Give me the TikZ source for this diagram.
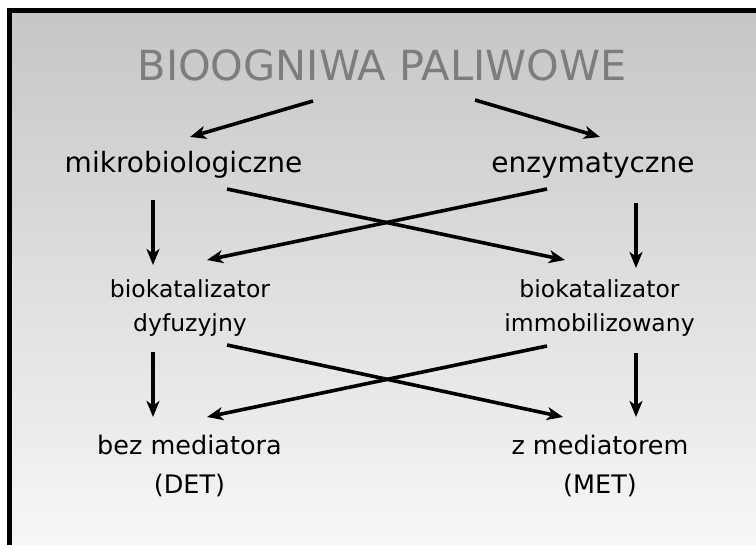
\documentclass[tikz,border=0pt]{standalone}
\usepackage{fontspec}
\setmainfont{DejaVu Sans}
\usetikzlibrary{arrows.meta,calc}
\definecolor{bgtop}{RGB}{198,198,198}
\definecolor{bgbot}{RGB}{248,248,248}
\definecolor{titlegray}{RGB}{125,125,125}
\begin{document}
\begin{tikzpicture}[x=1pt,y=-1pt,
  lbl/.style={inner sep=0pt, anchor=base, text=black},
  titlefont/.style={font=\fontsize{41.5}{50}\selectfont, text=titlegray},
  lvla/.style={font=\fontsize{28}{34}\selectfont},
  lvlb/.style={font=\fontsize{23.5}{34}\selectfont},
  lvlc/.style={font=\fontsize{25.5}{39}\selectfont},
  arr/.style={line width=3.6pt, -{Stealth[length=16pt,width=13pt,inset=4.5pt]}}]
\clip (0,0) rectangle (756,545);
\fill[white] (0,0) rectangle (756,545);
\shade[top color=bgtop,bottom color=bgbot] (9.5,10.5) rectangle (780,560);
\draw[line width=5pt] (9.5,10.5) rectangle (780,560);

\node[lbl, titlefont] (title) at (382,81) {BIOOGNIWA PALIWOWE};
\node[lbl, lvla] (mik) at (183.5,173) {mikrobiologiczne};
\node[lbl, lvla] (enz) at (593,173) {enzymatyczne};
\node[lbl, lvlb] (bdL) at (190,298) {\begin{tabular}[t]{@{}c@{}}biokatalizator\\dyfuzyjny\end{tabular}};
\node[lbl, lvlb] (bdR) at (599.5,298) {\begin{tabular}[t]{@{}c@{}}biokatalizator\\immobilizowany\end{tabular}};
\node[lbl, lvlc] (det) at (189.5,455) {\begin{tabular}[t]{@{}c@{}}bez mediatora\\(DET)\end{tabular}};
\node[lbl, lvlc] (met) at (600,455) {\begin{tabular}[t]{@{}c@{}}z mediatorem\\(MET)\end{tabular}};

\draw[arr] ($(title.base)+(-69,20)$) -- ($(mik.base)+(6.5,-36)$);
\draw[arr] ($(title.base)+(93,19)$) -- ($(enz.base)+(7,-36)$);
\draw[arr] ($(mik.base)+(-30.5,27)$) -- ($(bdL.base)+(-37,-33)$);
\draw[arr] ($(enz.base)+(43,30)$) -- ($(bdR.base)+(36.5,-30)$);
\draw[arr] ($(mik.base)+(43.5,16)$) -- ($(bdR.base)+(-34.5,-38)$);
\draw[arr] ($(enz.base)+(-46,16)$) -- ($(bdL.base)+(17,-38)$);
\draw[arr] ($(bdL.base)+(-37,54)$) -- ($(det.base)+(-36.5,-38)$);
\draw[arr] ($(bdR.base)+(36.5,55)$) -- ($(met.base)+(36,-38)$);
\draw[arr] ($(bdL.base)+(37,47)$) -- ($(met.base)+(-37,-38)$);
\draw[arr] ($(bdR.base)+(-52.5,48)$) -- ($(det.base)+(17.5,-38)$);
\end{tikzpicture}
\end{document}
